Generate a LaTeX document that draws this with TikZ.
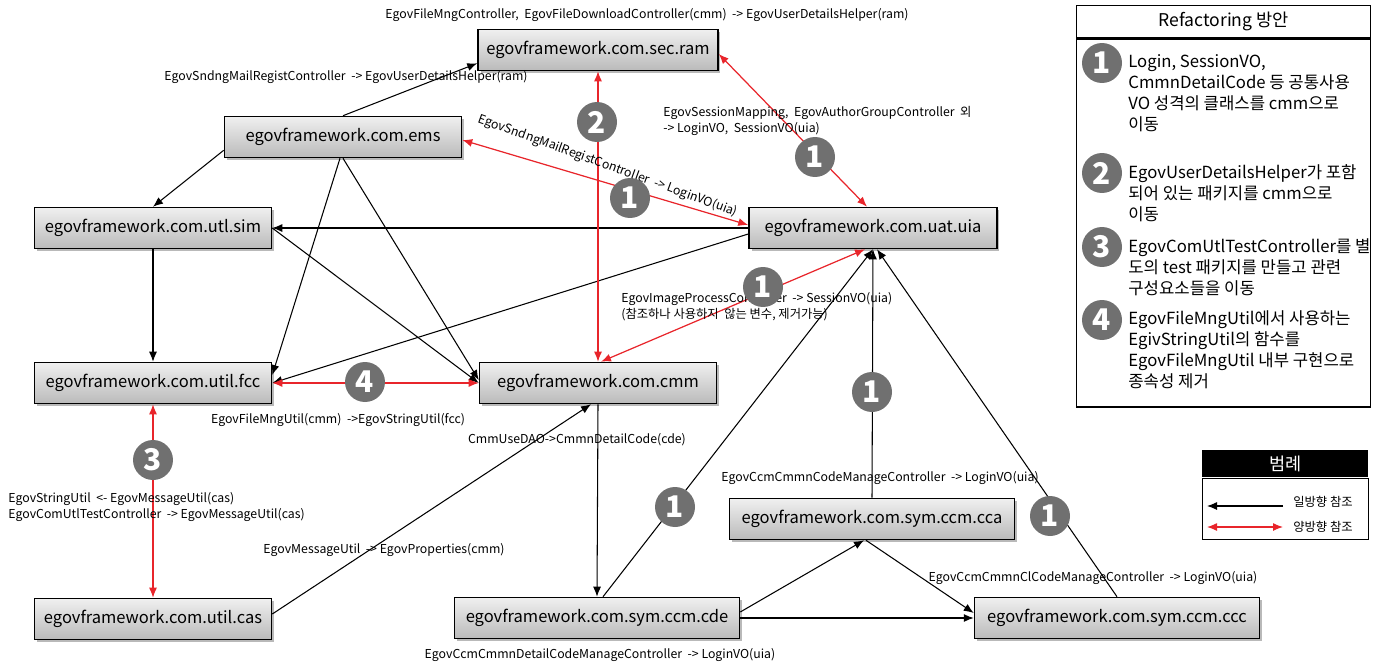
\documentclass[tikz,border=0pt]{standalone}
\usepackage{fontspec}
\setmainfont{Noto Sans CJK KR}
\usetikzlibrary{arrows.meta,calc,shadows,positioning}
\definecolor{numgray}{HTML}{707070}
\definecolor{refred}{HTML}{E8252B}

\begin{document}
\begin{tikzpicture}[
		x=0.02cm, y=-0.02cm,
		pkg/.style={draw=black, line width=0.9pt, top color=black!6, bottom color=black!27,
				minimum height=0.82cm, inner sep=0pt, font=\fontsize{9.4}{11}\selectfont,
				drop shadow={shadow xshift=0.05cm, shadow yshift=-0.05cm, opacity=0.55}},
		short/.style={pkg, minimum width=4.74cm},
		long/.style={pkg, minimum width=5.7cm},
		num/.style={circle, fill=numgray, text=white, minimum size=0.8cm, inner sep=0pt,
				font=\fontsize{17}{17}\bfseries\selectfont},
		dep/.style={-{Latex[length=2mm,width=1.6mm]}, line width=0.6pt},
		both/.style={{Latex[length=2mm,width=1.6mm]}-{Latex[length=2mm,width=1.6mm]}, line width=0.7pt, refred},
		lbl/.style={font=\fontsize{7}{9}\selectfont, inner sep=0pt},
		item/.style={font=\fontsize{9.5}{12}\selectfont, inner sep=0pt, align=left, anchor=north west}
	]
	\useasboundingbox (0,0) rectangle (1386,666);

	\node[pkg, minimum width=4.8cm] (ram) at (598,50) {egovframework.com.sec.ram};
	\node[short] (ems) at (343,137) {egovframework.com.ems};
	\node[pkg, minimum width=4.96cm] (uia) at (873,228) {egovframework.com.uat.uia};
	\node[short] (sim) at (153,228) {egovframework.com.utl.sim};
	\node[short] (fcc) at (153,383) {egovframework.com.util.fcc};
	\node[short] (cmm) at (598,383) {egovframework.com.cmm};
	\node[long] (cca) at (872,519) {egovframework.com.sym.ccm.cca};
	\node[long] (cde) at (597,618) {egovframework.com.sym.ccm.cde};
	\node[short] (cas) at (153,619) {egovframework.com.util.cas};
	\node[long] (ccc) at (1117,618) {egovframework.com.sym.ccm.ccc};

	\draw[dep] (ems.north) -- ($(ram.south west)+(0,-8)$);
	\draw[dep] ($(ems.south west)+(0,-8)$) -- (sim.north);
	\draw[dep] (sim.south) -- (fcc.north);
	\draw[dep] ($(ems.south)+(-3,0)$) -- ($(fcc.east)+(0,-8)$);
	\draw[dep] (ems.south) -- ($(cmm.west)+(0,-3)$);
	\draw[dep] (sim.east) -- (cmm.west);
	\draw[dep] (uia.west) -- (sim.east);
	\draw[dep] ($(uia.west)+(0,6)$) -- (fcc.east);
	\draw[dep] ($(cas.east)+(0,-5)$) -- ($(cmm.south)+(-7,0)$);
	\draw[dep] (cmm.south) -- (cde.north);
	\draw[dep] ($(cde.north)+(6,0)$) -- (uia.south);
	\draw[dep] (cca.north) -- (uia.south);
	\draw[dep] (ccc.north) -- ($(uia.south)+(4,0)$);
	\draw[dep] ($(cde.east)+(0,-6)$) -- ($(cca.south)+(-8,0)$);
	\draw[dep] (cde.east) -- (ccc.west);
	\draw[dep] ($(cca.south)+(-6,0)$) -- ($(ccc.west)+(0,-5)$);

	\draw[both] (ram.south) -- (cmm.north);
	\draw[both] ($(ram.east)+(0,4)$) -- ($(uia.north)+(-6,0)$);
	\draw[both] ($(ems.east)+(0,3)$) -- ($(uia.west)+(0,-3)$);
	\draw[both] ($(uia.south)+(-8,0)$) -- ($(cmm.north)+(3,0)$);
	\draw[both] (fcc.east) -- (cmm.west);
	\draw[both] (fcc.south) -- (cas.north);

	\node[lbl] (l1) at (647,15) {EgovFileMngController,\ \ EgovFileDownloadController(cmm)\ \ -> EgovUserDetailsHelper(ram)};
	\node[lbl] (l2) at (346,77) {EgovSndngMailRegistController\ \ -> EgovUserDetailsHelper(ram)};
	\node[lbl, align=left, anchor=north west] (l3) at (663,106) {EgovSessionMapping,\ \ EgovAuthorGroupController\ \ 외\\-> LoginVO,\ \ SessionVO(uia)};
	\node[lbl, rotate=-20] (l4) at (608,166) {EgovSndngMailRegistController\ \ -> LoginVO(uia)};
	\node[lbl, align=left, anchor=north west] (l5) at (621,292) {EgovImageProcessController\ \ -> SessionVO(uia)\\(참조하나 사용하지\ \ 않는 변수, 제거가능)};
	\node[lbl] (l6) at (338,420) {EgovFileMngUtil(cmm)\ \ ->EgovStringUtil(fcc)};
	\node[lbl] (l7) at (577,440) {CmmUseDAO->CmmnDetailCode(cde)};
	\node[lbl, align=left, anchor=north west] (l8) at (8,492) {EgovStringUtil\ \ <- EgovMessageUtil(cas)\\EgovComUtlTestController\ \ -> EgovMessageUtil(cas)};
	\node[lbl] (l9) at (384,550) {EgovMessageUtil\ \ -> EgovProperties(cmm)};
	\node[lbl] (l10) at (880,478) {EgovCcmCmmnCodeManageController\ \ -> LoginVO(uia)};
	\node[lbl] (l11) at (1093,578) {EgovCcmCmmnClCodeManageController\ \ -> LoginVO(uia)};
	\node[lbl] (l12) at (600,655) {EgovCcmCmmnDetailCodeManageController\ \ -> LoginVO(uia)};

	\node[num] (n2) at (597,122) {2};
	\node[num] (n1a) at (815,157) {1};
	\node[num] (n1b) at (630,198) {1};
	\node[num] (n1c) at (763,287) {1};
	\node[num] (n4) at (365,382) {4};
	\node[num] (n3) at (153,460) {3};
	\node[num] (n1d) at (872,392) {1};
	\node[num] (n1e) at (675,507) {1};
	\node[num] (n1f) at (1050,516) {1};

	\node[draw, line width=0.8pt, anchor=north west, minimum width=5.88cm, minimum height=0.64cm, inner sep=0pt,
		font=\fontsize{10}{12}\selectfont] (ptitle) at (1076,5) {Refactoring 방안};
	\node[draw, line width=0.8pt, anchor=north west, minimum width=5.88cm, minimum height=7.36cm, inner sep=0pt] (panel) at (ptitle.south west) {};
	\node[num] (p1) at (1102,63) {1};
	\node[num] (p2) at (1102,173) {2};
	\node[num] (p3) at (1102,247) {3};
	\node[num] (p4) at (1102,320) {4};
	\node[item] (t1) at (1128,54) {Login, SessionVO,\\CmmnDetailCode 등 공통사용\\VO 성격의 클래스를 cmm으로\\이동};
	\node[item] (t2) at (1128,164) {EgovUserDetailsHelper가 포함\\되어 있는 패키지를 cmm으로\\이동};
	\node[item] (t3) at (1128,238) {EgovComUtlTestController를 별\\도의 test 패키지를 만들고 관련\\구성요소들을 이동};
	\node[item] (t4) at (1128,310) {EgovFileMngUtil에서 사용하는\\EgivStringUtil의 함수를\\EgovFileMngUtil 내부 구현으로\\종속성 제거};

	\node[fill=black, text=white, anchor=north west, minimum width=3.32cm, minimum height=0.54cm, inner sep=0pt,
		font=\fontsize{10}{12}\selectfont] (lhead) at (1202,450) {범례};
	\node[draw, line width=0.6pt, anchor=north west, minimum width=3.32cm, minimum height=1.22cm, inner sep=0pt] (lbody) at (lhead.south west) {};
	\coordinate (a1) at (1283,506);
	\coordinate (a2) at (1207,506);
	\coordinate (b1) at (1207,527);
	\coordinate (b2) at (1283,527);
	\draw[dep] (a1) -- (a2);
	\draw[both] (b1) -- (b2);
	\node[lbl, anchor=west] (k1) at (1293,502) {일방향 참조};
	\node[lbl, anchor=west] (k2) at (1293,527) {양방향 참조};
\end{tikzpicture}
\end{document}
